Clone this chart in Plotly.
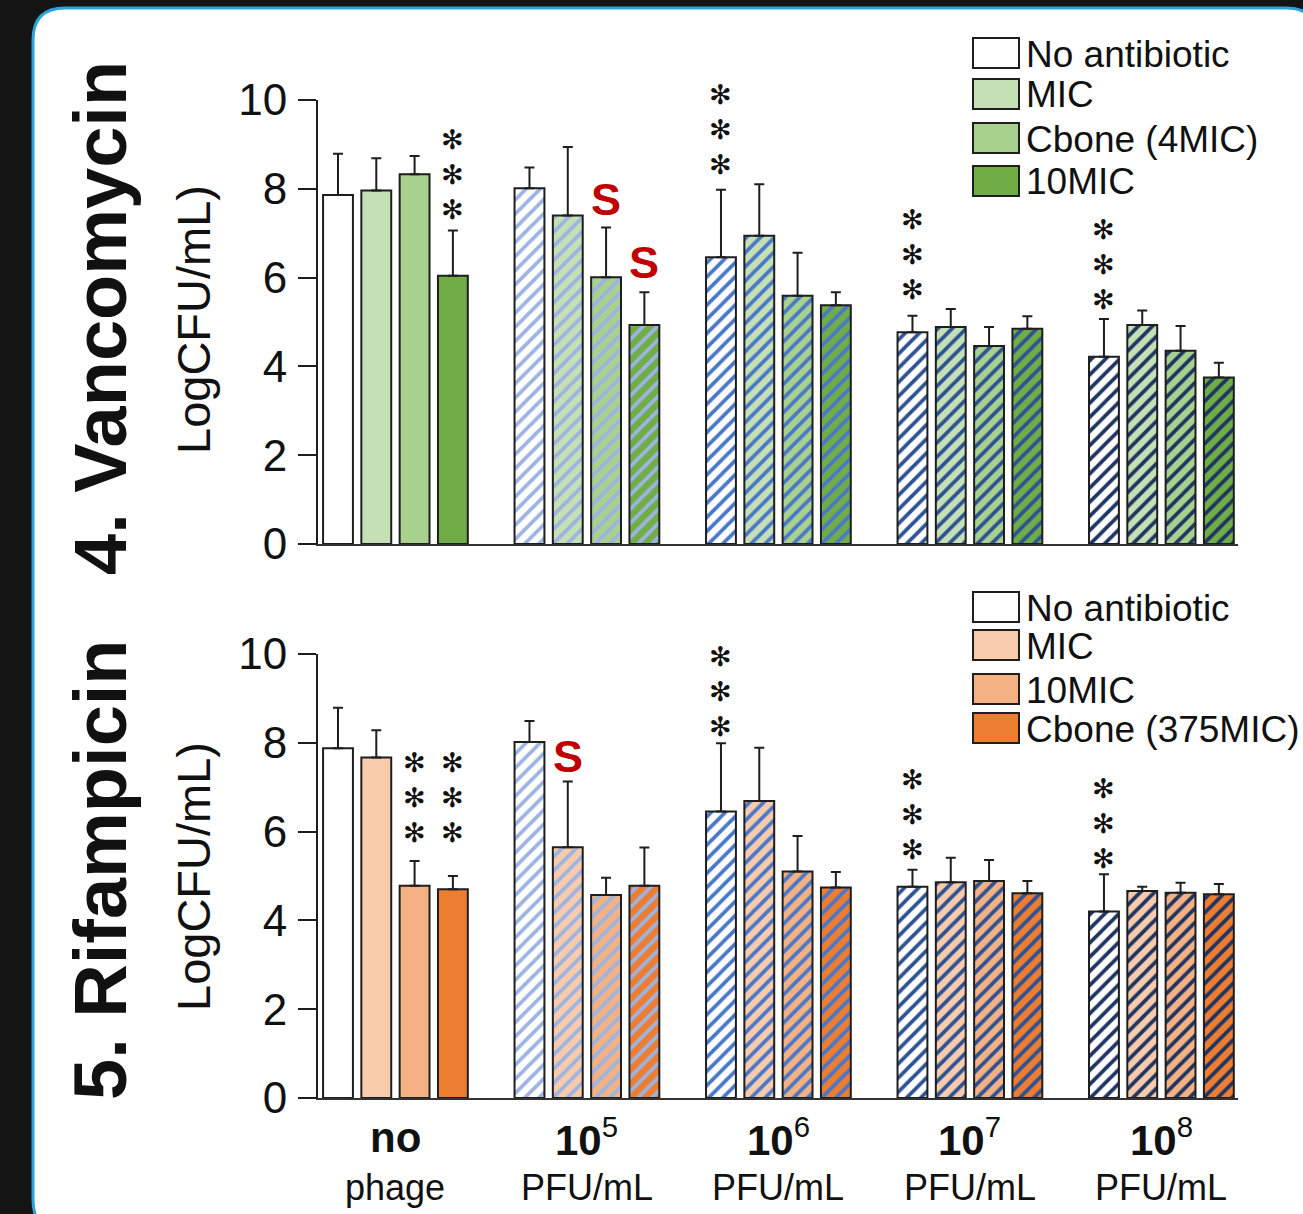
import plotly.graph_objects as go

# ---------------- data ----------------
groups = ["no phage", "10^5", "10^6", "10^7", "10^8"]
group_line1 = ["<b>no</b>", "<b>10</b><sup>5</sup>", "<b>10</b><sup>6</sup>",
               "<b>10</b><sup>7</sup>", "<b>10</b><sup>8</sup>"]
group_line2 = ["phage", "PFU/mL", "PFU/mL", "PFU/mL", "PFU/mL"]

van_series = ["No antibiotic", "MIC", "Cbone (4MIC)", "10MIC"]
van_none = [7.86, 8.01, 6.46, 4.77, 4.22]
van_none_err = [0.93, 0.47, 1.52, 0.37, 0.85]
van_mic = [7.96, 7.40, 6.94, 4.89, 4.93]
van_mic_err = [0.73, 1.54, 1.16, 0.40, 0.33]
van_cbone = [8.33, 6.01, 5.59, 4.46, 4.35]
van_cbone_err = [0.41, 1.12, 0.97, 0.43, 0.56]
van_10mic = [6.04, 4.93, 5.38, 4.85, 3.75]
van_10mic_err = [1.02, 0.74, 0.29, 0.28, 0.33]

rif_series = ["No antibiotic", "MIC", "10MIC", "Cbone (375MIC)"]
rif_none = [7.88, 8.02, 6.45, 4.76, 4.20]
rif_none_err = [0.91, 0.47, 1.54, 0.38, 0.84]
rif_mic = [7.67, 5.65, 6.69, 4.86, 4.66]
rif_mic_err = [0.61, 1.48, 1.20, 0.55, 0.10]
rif_10mic = [4.78, 4.57, 5.10, 4.89, 4.62]
rif_10mic_err = [0.56, 0.39, 0.80, 0.47, 0.23]
rif_cbone = [4.70, 4.78, 4.74, 4.61, 4.59]
rif_cbone_err = [0.30, 0.86, 0.35, 0.28, 0.23]

# significance marks: (group index, series index, value of middle mark)
van_stars = [(0, 3, 8.32), (2, 0, 9.33), (3, 0, 6.52), (4, 0, 6.29)]
rif_stars = [(0, 2, 6.76), (0, 3, 6.76), (2, 0, 9.15), (3, 0, 6.38), (4, 0, 6.18)]
van_s = [(1, 2, 7.75), (1, 3, 6.33)]
rif_s = [(1, 1, 7.70)]

y_ticks = [0, 2, 4, 6, 8, 10]

# ---------------- styles ----------------
van_colors = ["#ffffff", "#c5e0b4", "#a9d18e", "#70ad47"]
rif_colors = ["#ffffff", "#f8cbad", "#f4b183", "#ed7d31"]
hatch_colors = ["#ffffff", "#9db4e2", "#4a78c8", "#2e5394", "#1f3562"]
hatch_shapes = ["", "/", "/", "/", "/"]

W, H = 1303, 1214
ML, MR, MT, MB = 318, 65, 100, 116
PW = W - ML - MR
PH = H - MT - MB


def px_x(px):
    return (px - ML) / PW


def px_y(py):
    return (H - MB - py) / PH


FONT = "Arial, Liberation Sans, sans-serif"
GROUP_STEP = 5
BAR_W = 0.78

fig = go.Figure()

panels = [
    dict(series=van_series, colors=van_colors,
         vals=[van_none, van_mic, van_cbone, van_10mic],
         errs=[van_none_err, van_mic_err, van_cbone_err, van_10mic_err],
         xa="x", ya="y", stars=van_stars, s=van_s,
         leg_tops=[38, 79, 123, 166]),
    dict(series=rif_series, colors=rif_colors,
         vals=[rif_none, rif_mic, rif_10mic, rif_cbone],
         errs=[rif_none_err, rif_mic_err, rif_10mic_err, rif_cbone_err],
         xa="x2", ya="y2", stars=rif_stars, s=rif_s,
         leg_tops=[592, 630, 674, 713]),
]

annotations = []
shapes = []

for p in panels:
    for si, name in enumerate(p["series"]):
        xs = [GROUP_STEP * g + si for g in range(len(groups))]
        fig.add_trace(go.Bar(
            x=xs, y=p["vals"][si], width=BAR_W, name=name,
            xaxis=p["xa"], yaxis=p["ya"], showlegend=False,
            marker=dict(
                color=p["colors"][si],
                line=dict(color="#1e1e1e", width=2),
                pattern=dict(shape=hatch_shapes, fgcolor=hatch_colors,
                             bgcolor=p["colors"][si], size=10, solidity=0.38,
                             fillmode="replace"),
            ),
            error_y=dict(type="data", array=p["errs"][si],
                         arrayminus=[0] * len(groups), symmetric=False,
                         color="#1e1e1e", thickness=2, width=5),
        ))
    # stars
    for g, si, yv in p["stars"]:
        annotations.append(dict(
            x=GROUP_STEP * g + si, y=yv, xref=p["xa"], yref=p["ya"],
            text="✻<br>✻<br>✻", showarrow=False,
            xanchor="center", yanchor="middle",
            font=dict(family="DejaVu Sans", size=27, color="#111111")))
    for g, si, yv in p["s"]:
        annotations.append(dict(
            x=GROUP_STEP * g + si, y=yv, xref=p["xa"], yref=p["ya"],
            text="<b>S</b>", showarrow=False, xanchor="center", yanchor="middle",
            font=dict(family=FONT, size=45, color="#c00000")))
    # legend
    for si, name in enumerate(p["series"]):
        top = p["leg_tops"][si]
        shapes.append(dict(type="rect", xref="paper", yref="paper",
                           x0=px_x(973), x1=px_x(1019),
                           y0=px_y(top + 30), y1=px_y(top),
                           fillcolor=p["colors"][si],
                           line=dict(color="#1e1e1e", width=2)))
        annotations.append(dict(
            x=px_x(1024), y=px_y(top + 16), xref="paper", yref="paper",
            text=name, showarrow=False, xanchor="left", yanchor="middle",
            font=dict(family=FONT, size=37, color="#111111")))

# group labels under the lower panel
for g in range(len(groups)):
    cx = GROUP_STEP * g + 1.5
    annotations.append(dict(x=cx, y=px_y(1137), xref="x2", yref="paper",
                            text=group_line1[g], showarrow=False,
                            xanchor="center", yanchor="middle",
                            font=dict(family=FONT, size=42, color="#111111")))
    annotations.append(dict(x=cx, y=px_y(1187), xref="x2", yref="paper",
                            text=group_line2[g], showarrow=False,
                            xanchor="center", yanchor="middle",
                            font=dict(family=FONT, size=36, color="#111111")))

# axis titles and panel titles
for cy in (320, 877):
    annotations.append(dict(x=px_x(193), y=px_y(cy), xref="paper", yref="paper",
                            text="LogCFU/mL)", textangle=-90, showarrow=False,
                            xanchor="center", yanchor="middle",
                            font=dict(family=FONT, size=47, color="#111111")))
annotations.append(dict(x=px_x(100), y=px_y(318), xref="paper", yref="paper",
                        text="<b>4. Vancomycin</b>", textangle=-90, showarrow=False,
                        xanchor="center", yanchor="middle",
                        font=dict(family=FONT, size=74, color="#111111")))
annotations.append(dict(x=px_x(100), y=px_y(870), xref="paper", yref="paper",
                        text="<b>5. Rifampicin</b>", textangle=-90, showarrow=False,
                        xanchor="center", yanchor="middle",
                        font=dict(family=FONT, size=74, color="#111111")))

# white rounded panel with blue border
x0, y0, x1, y1, r = 33, 8, 1318, 1232, 32


def P(px, py):
    return f"{px_x(px):.5f},{px_y(py):.5f}"


path = (f"M{P(x0 + r, y0)} L{P(x1 - r, y0)} Q{P(x1, y0)} {P(x1, y0 + r)} "
        f"L{P(x1, y1 - r)} Q{P(x1, y1)} {P(x1 - r, y1)} L{P(x0 + r, y1)} "
        f"Q{P(x0, y1)} {P(x0, y1 - r)} L{P(x0, y0 + r)} Q{P(x0, y0)} {P(x0 + r, y0)} Z")
shapes.insert(0, dict(type="path", path=path, xref="paper", yref="paper",
                      fillcolor="#ffffff", line=dict(color="#2aa3d9", width=3),
                      layer="below"))

xaxis_common = dict(range=[-0.522, 23.5], showline=True, linecolor="#333333",
                    linewidth=2, ticks="", showticklabels=False, showgrid=False,
                    zeroline=False)
yaxis_common = dict(range=[0, 10], tickvals=y_ticks, ticks="outside", ticklen=18,
                    tickwidth=2, tickcolor="#1e1e1e", showline=True,
                    linecolor="#1e1e1e", linewidth=2, showgrid=False,
                    zeroline=False, ticklabelstandoff=2,
                    tickfont=dict(family=FONT, size=44, color="#111111"))

fig.update_layout(
    width=W, height=H,
    margin=dict(l=ML, r=MR, t=MT, b=MB, pad=0),
    paper_bgcolor="#141414", plot_bgcolor="rgba(0,0,0,0)",
    barmode="overlay",
    xaxis=dict(domain=[0, 1], anchor="y", **xaxis_common),
    yaxis=dict(domain=[px_y(544), px_y(100)], anchor="x", **yaxis_common),
    xaxis2=dict(domain=[0, 1], anchor="y2", **xaxis_common),
    yaxis2=dict(domain=[px_y(1098), px_y(654)], anchor="x2", **yaxis_common),
    annotations=annotations,
    shapes=shapes,
    showlegend=False,
)

fig.write_html("out.html", config={"displayModeBar": False},
               post_script="document.body.style.margin='0';document.body.style.overflow='hidden';")
